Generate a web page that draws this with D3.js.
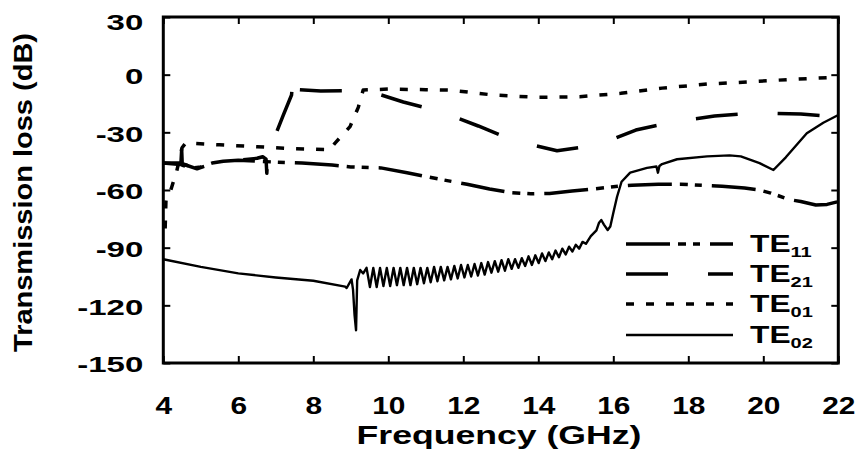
<!DOCTYPE html>
<html>
<head>
<meta charset="utf-8">
<script src="https://cdn.jsdelivr.net/npm/d3@7"></script>
<style>
  body { margin: 0; background: #fff; }
  text { font-family: "Liberation Sans", Arial, sans-serif; font-weight: bold; fill: #000; }
</style>
</head>
<body>
<div id="chart"></div>
<script>
// Transmission loss of the modes vs frequency

var xTicks = [4, 6, 8, 10, 12, 14, 16, 18, 20, 22];
var yTicks = [30, 0, -30, -60, -90, -120, -150];

// [GHz, dB]
var te11 = [
  [4.0, -46], [4.47, -46], [4.49, -39], [4.51, -49], [4.55, -46.5], [4.8, -48.5],
  [5.0, -48], [5.3, -46], [5.6, -45], [6.0, -44.5], [6.5, -45], [7.0, -45.5],
  [7.7, -46], [8.5, -47], [9.0, -48], [9.8, -48.5], [10.5, -51], [11.4, -54.5],
  [12.1, -57], [12.7, -59.5], [13.25, -61.3], [13.8, -62], [14.3, -61.8],
  [14.9, -60.5], [15.45, -59.5], [16.0, -58.3], [16.5, -57.5], [17.2, -57],
  [17.8, -57], [18.4, -57.6], [18.9, -58], [19.5, -59], [19.9, -60], [20.2, -61.6],
  [20.7, -65], [21.0, -66], [21.4, -67.8], [21.7, -67.5], [22.0, -66]
];

var te21 = [
  [4.0, -46], [4.6, -47], [4.9, -49], [5.2, -47], [5.5, -45], [6.0, -44.5],
  [6.5, -43.5], [6.65, -42.7], [6.74, -44], [6.76, -51.3], [6.78, -45], [6.85, -43],
  [6.95, -36], [7.02, -30], [7.2, -21], [7.42, -10.6], [7.46, 0.7], [7.47, -7],
  [7.6, -7.8], [8.2, -8.5], [9.3, -8.3], [9.8, -10.5], [10.4, -14.2],
  [11.4, -19.3], [12.4, -26.7], [13.3, -34], [14.5, -39.6], [15.6, -36.6],
  [16.6, -28.8], [17.6, -24.6], [18.7, -21.5], [19.8, -19.8], [21.0, -20.5], [22.0, -22]
];

var te01 = [
  [4.05, -80], [4.07, -66], [4.1, -63], [4.2, -60], [4.36, -50], [4.5, -38],
  [4.6, -35.5], [5.5, -36.5], [6.5, -37.5], [7.5, -38.5], [8.44, -39], [8.58, -35.6],
  [8.98, -27], [9.2, -17], [9.33, -8], [10.0, -7.5], [11.0, -7.8], [11.65, -8],
  [12.8, -10.6], [13.96, -11.8], [15.1, -11.5], [16.2, -9.7], [17.3, -7], [18.5, -4.9],
  [19.65, -3.7], [20.8, -2.4], [21.86, -1.4], [22.0, -1.3]
];

var te02 = [
  [4.0, -96], [5.0, -100], [6.0, -103.4], [7.0, -105.5], [8.0, -107.2], [8.85, -110.3],
  [8.89, -111], [9.02, -106.5], [9.06, -112], [9.10, -125], [9.14, -133], [9.17, -107],
  [9.25, -101.6], [9.33, -103.4],
  [9.42, -100.5], [9.51, -110.5], [9.60, -100.5], [9.69, -110.5], [9.78, -100.5], [9.87, -110],
  [9.96, -100.5], [10.05, -110], [10.14, -100.5], [10.23, -109.5], [10.32, -100.5], [10.41, -109.5],
  [10.50, -100.5], [10.59, -109.5], [10.68, -100.5], [10.77, -109], [10.86, -100.5], [10.95, -108.5],
  [11.04, -100.5], [11.13, -108], [11.22, -100], [11.31, -107.5], [11.40, -100], [11.49, -107],
  [11.58, -100], [11.67, -106.5], [11.76, -99.5], [11.85, -106], [11.94, -99], [12.03, -105.5],
  [12.12, -99], [12.21, -105], [12.30, -98.5], [12.39, -104.5], [12.48, -98], [12.57, -104],
  [12.66, -97.5], [12.75, -103], [12.84, -97], [12.93, -102.5], [13.02, -96.5], [13.11, -102],
  [13.20, -96], [13.29, -101], [13.38, -96], [13.47, -100.5], [13.56, -95.5], [13.65, -99.5],
  [13.74, -94.5], [13.83, -99], [13.92, -94], [14.01, -98], [14.10, -93], [14.19, -97],
  [14.28, -92.5], [14.37, -96], [14.46, -91.5], [14.55, -95], [14.64, -90.5], [14.73, -93.5],
  [14.82, -89.5], [14.91, -92], [15.00, -88.5], [15.09, -90.5], [15.18, -87], [15.27, -88],
  [15.4, -84], [15.55, -81], [15.62, -77], [15.68, -75.6], [15.75, -78], [15.85, -80.8],
  [15.92, -79], [16.0, -72], [16.1, -63.5], [16.22, -55.7], [16.45, -51], [16.9, -48.5],
  [17.15, -47.8], [17.19, -51], [17.23, -47.5], [17.3, -46.5], [17.7, -44], [18.5, -42.5],
  [19.1, -42], [19.4, -42.5], [19.9, -46], [20.27, -49.6], [20.6, -43], [21.16, -30.5],
  [21.6, -25], [22.0, -21]
];

var seriesNames = ["11", "21", "01", "02"];
var seriesData = [te11, te21, te01, te02];

var WIDTH = 862;
var HEIGHT = 454;
var LEFT = 163.3, RIGHT = 838.3, TOP = 17, BOTTOM = 363;
var TICK = 7;

var dashes = ["44,8,8,7,7,10", "42,40", "8,12", null];
var widths = [3.5, 3.5, 3.5, 2.4];

var svg = d3.select("#chart").append("svg")
    .attr("width", WIDTH)
    .attr("height", HEIGHT);

var x = d3.scaleLinear().domain([4, 22]).range([LEFT, RIGHT]);
var y = d3.scaleLinear().domain([-150, 30]).range([BOTTOM, TOP]);

svg.append("clipPath").attr("id", "plot")
  .append("rect")
    .attr("x", LEFT).attr("y", TOP)
    .attr("width", RIGHT - LEFT).attr("height", BOTTOM - TOP);

// axes, ticks point inward; labels in the picture are drawn wide
var plain = function(d) { return String(d); };
var XS = 1.3, YS = 1.5;

var gx = svg.append("g")
    .attr("transform", "translate(0," + BOTTOM + ")")
    .call(d3.axisBottom(x).tickValues(xTicks).tickFormat(plain)
        .tickSizeInner(-TICK).tickSizeOuter(0).tickPadding(35));
gx.selectAll("text")
    .style("font-size", "23px")
    .attr("transform", "scale(" + XS + ",1)");

var gy = svg.append("g")
    .attr("transform", "translate(" + LEFT + ",0)")
    .call(d3.axisLeft(y).tickValues(yTicks).tickFormat(plain)
        .tickSizeInner(-TICK).tickSizeOuter(0).tickPadding(20));
gy.selectAll("text")
    .style("font-size", "22px")
    .attr("x", -20 / YS)
    .attr("dy", function(d) { return d == 30 ? "0.55em" : "0.4em"; })
    .attr("transform", "scale(" + YS + ",1)");

svg.append("g")
    .attr("transform", "translate(0," + TOP + ")")
    .call(d3.axisTop(x).tickValues(xTicks).tickSizeInner(-TICK).tickSizeOuter(0).tickFormat(""));
svg.append("g")
    .attr("transform", "translate(" + RIGHT + ",0)")
    .call(d3.axisRight(y).tickValues(yTicks).tickSizeInner(-TICK).tickSizeOuter(0).tickFormat(""));

svg.selectAll(".domain").remove();
svg.selectAll(".tick line").attr("stroke", "#000").attr("stroke-width", 2);

// curves
var line = d3.line()
    .x(function(d) { return x(d[0]); })
    .y(function(d) { return y(d[1]); });

var curves = svg.append("g").attr("clip-path", "url(#plot)");
for (var i = 0; i < seriesData.length; i++) {
    curves.append("path")
        .attr("d", line(seriesData[i]))
        .attr("fill", "none")
        .attr("stroke", "#000")
        .attr("stroke-width", widths[i])
        .attr("stroke-dasharray", dashes[i])
        .attr("stroke-linejoin", "round");
}

// frame
svg.append("rect")
    .attr("x", LEFT).attr("y", TOP)
    .attr("width", RIGHT - LEFT).attr("height", BOTTOM - TOP)
    .attr("fill", "none")
    .attr("stroke", "#000")
    .attr("stroke-width", 3);

// legend
var legY = [244, 274, 304, 335];
var leg = svg.append("g");
for (var j = 0; j < seriesNames.length; j++) {
    leg.append("line")
        .attr("x1", 626).attr("x2", 733)
        .attr("y1", legY[j]).attr("y2", legY[j])
        .attr("stroke", "#000")
        .attr("stroke-width", widths[j])
        .attr("stroke-dasharray", dashes[j]);
    var t = leg.append("text")
        .attr("transform", "translate(750," + (legY[j] + 8.3) + ") scale(1.38,1)")
        .style("font-size", "23px");
    t.append("tspan").text("TE");
    t.append("tspan").attr("dy", 4.7).style("font-size", "14.5px").text(seriesNames[j]);
}

// axis titles
svg.append("text")
    .attr("transform", "translate(499,444) scale(1.37,1)")
    .attr("text-anchor", "middle")
    .style("font-size", "26px")
    .text("Frequency (GHz)");

svg.append("text")
    .attr("transform", "translate(32,192.5) rotate(-90) scale(1.16,1)")
    .attr("text-anchor", "middle")
    .style("font-size", "25px")
    .text("Transmission loss (dB)");
</script>
</body>
</html>
